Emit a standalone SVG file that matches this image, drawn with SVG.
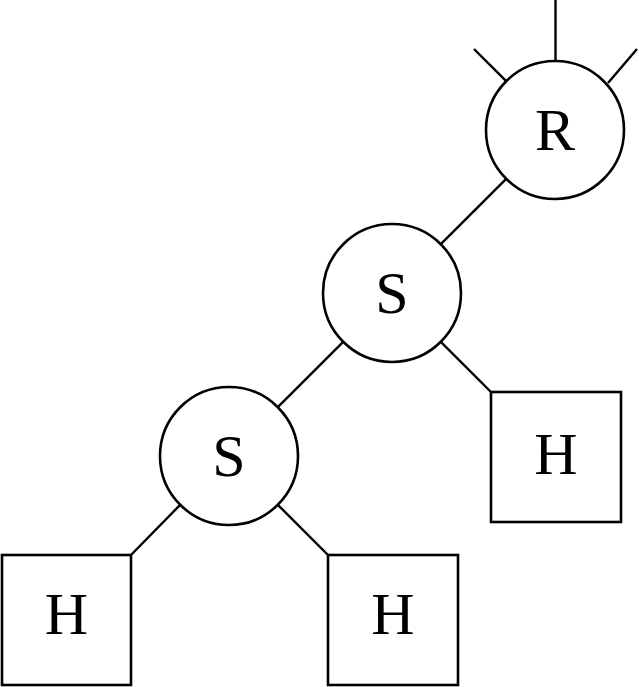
<svg xmlns="http://www.w3.org/2000/svg" width="639" height="687" viewBox="0 0 639 687">
<style>
.n{fill:#fff;stroke:#000;stroke-width:2.6}
.c line{stroke:#000;stroke-width:2.4}
text{font-family:"Liberation Serif","DejaVu Serif",serif;font-size:60px;text-anchor:middle;fill:#000}
</style>
<rect width="639" height="687" fill="#fff"/>
<g class="c" id="connectors">
<line x1="555.5" y1="0" x2="555.5" y2="61"/>
<line x1="474" y1="49" x2="506.2" y2="81.2"/>
<line x1="637" y1="49" x2="608" y2="83"/>
<line x1="506.2" y1="178.8" x2="440.8" y2="244.2"/>
<line x1="440.8" y1="341.8" x2="491" y2="392"/>
<line x1="343.2" y1="341.8" x2="277.8" y2="407.2"/>
<line x1="180.2" y1="504.8" x2="131" y2="555"/>
<line x1="277.8" y1="504.8" x2="328" y2="555"/>
</g>
<g id="R"><circle class="n" cx="555" cy="130" r="69"/><text x="555" y="150">R</text></g>
<g id="S1"><circle class="n" cx="392" cy="293" r="69"/><text x="392" y="313">S</text></g>
<g id="S2"><circle class="n" cx="229" cy="456" r="69"/><text x="229" y="476">S</text></g>
<g id="H1"><rect class="n" x="491" y="392" width="130" height="130"/><text x="556" y="474">H</text></g>
<g id="H2"><rect class="n" x="2" y="555" width="129" height="130"/><text x="66.5" y="634">H</text></g>
<g id="H3"><rect class="n" x="328" y="555" width="130" height="130"/><text x="393" y="634">H</text></g>
</svg>
